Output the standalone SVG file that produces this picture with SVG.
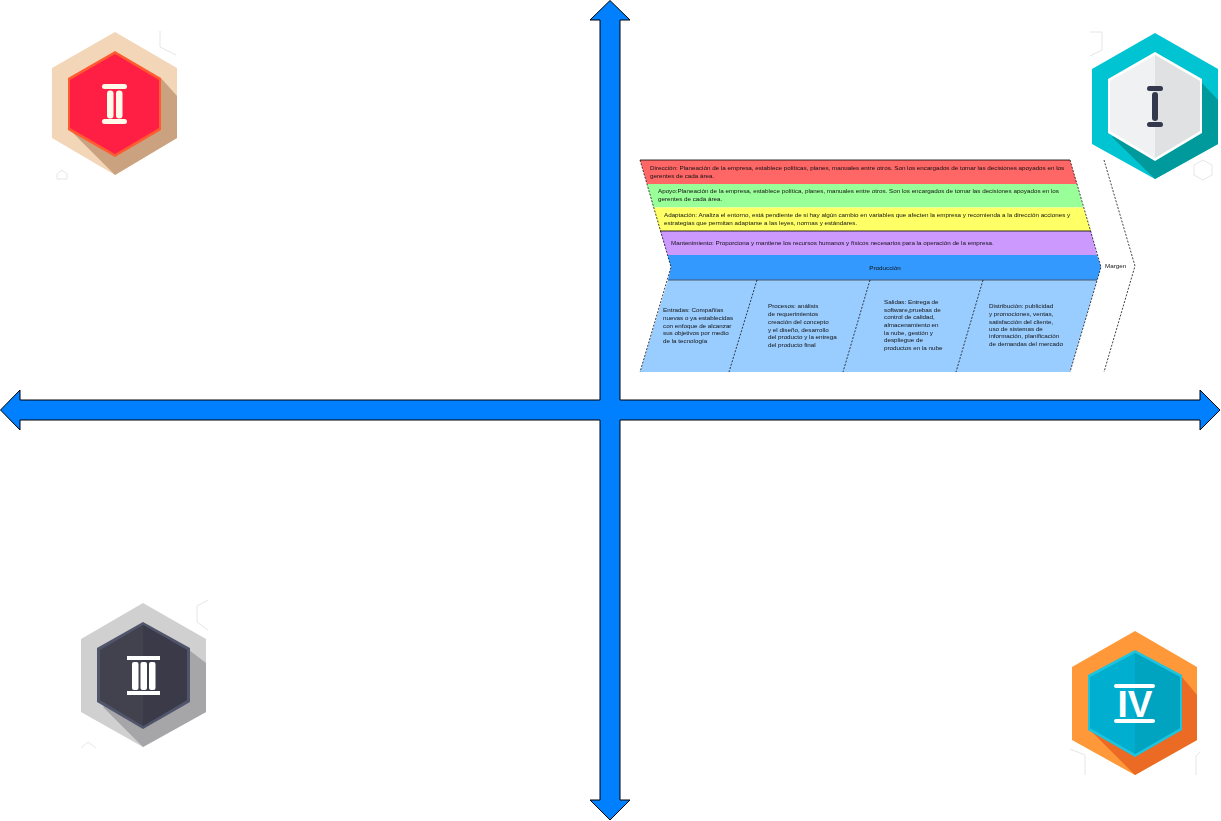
<svg xmlns="http://www.w3.org/2000/svg" width="1221" height="821" viewBox="0 0 1221 821">
<style>
text{font-family:"Liberation Sans",Arial,sans-serif;font-size:6.25px;fill:#111}
.arrow{fill:#007FFF;stroke:#000;stroke-width:1}
.edge{fill:none;stroke:#000;stroke-width:.8}
.dash{fill:none;stroke:#111;stroke-width:.8;stroke-dasharray:2 1.5}
.mark{fill:none;stroke:#E6E6E6;stroke-width:1}
.w{fill:#fff}.c{fill:#FFFBEA}.d{fill:#33384C}
</style>
<defs><filter id="soft" x="0" y="0" width="1" height="1"><feGaussianBlur stdDeviation="0.22"/></filter></defs>
<rect width="1221" height="821" fill="#fff"/>
<g id="axes">
<path class="arrow" d="M610 .5L630 20H620V400H1200V390L1220 410L1200 430V420H620V800H630L610 820L590 800H600V420H20V430L.5 410L20 390V400H600V20H590Z"/>
</g>
<g id="value-chain">
<polygon points="640,160 1070,160 1077,184 647,184" fill="#FF6666"/>
<polygon points="647,184 1077,184 1083.500,207.500 653.500,207.500" fill="#99FF99"/>
<polygon points="653.500,207.500 1083.500,207.500 1091,231 660,231" fill="#FFFF66"/>
<polygon points="660,231 1091,231 1097,255 667.500,255" fill="#CC99FF"/>
<polygon points="667.500,255 1097,255 1101,267 1097,280 668,280 671,267" fill="#3399FF"/>
<polygon points="668,280 1097,280 1070,372 640,372" fill="#99CCFF"/>
<path d="M668 280H1097" stroke="#44566A" stroke-width="1"/>
<path class="edge" d="M640 160H1070M660 231H1091"/>
<path class="dash" d="M640 160L671 267L640 372M1070 160L1101 267L1070 372M757 280L729 372M870 280L843 372M983 280L956 372"/>
<path class="dash" d="M1104 160L1135 266L1104 372"/>
<g id="labels" filter="url(#soft)">
<text x="650" y="170">Dirección: Planeación de la empresa, establece políticas, planes, manuales entre otros. Son los encargados de tomar las decisiones apoyados en los</text>
<text x="650" y="178">gerentes de cada área.</text>
<text x="658" y="193">Apoyo:Planeación de la empresa, establece política, planes, manuales entre otros. Son los encargados de tomar las decisiones apoyados en los</text>
<text x="658" y="201">gerentes de cada área.</text>
<text x="664" y="217">Adaptación: Analiza el entorno, está pendiente de si hay algún cambio en variables que afecten la empresa y recomienda a la dirección acciones y</text>
<text x="664" y="225">estrategias que permitan adaptarse a las leyes, normas y estándares.</text>
<text x="671" y="245">Mantenimiento: Proporciona y mantiene los recursos humanos y físicos necesarios para la operación de la empresa.</text>
<text x="885" y="270" text-anchor="middle">Producción</text>
<text x="1105" y="268">Margen</text>
<text x="663" y="312">Entradas: Compañías</text>
<text x="663" y="320">nuevas o ya establecidas</text>
<text x="663" y="327.500">con enfoque de alcanzar</text>
<text x="663" y="335">sus objetivos por medio</text>
<text x="663" y="343">de la tecnología</text>
<text x="768" y="308">Procesos: análisis</text>
<text x="768" y="316">de requerimientos</text>
<text x="768" y="324">creación del concepto</text>
<text x="768" y="332">y el diseño, desarrollo</text>
<text x="768" y="339">del producto y la entrega</text>
<text x="768" y="347">del producto final</text>
<text x="884" y="304">Salidas: Entrega de</text>
<text x="884" y="312">software,pruebas de</text>
<text x="884" y="319">control de calidad,</text>
<text x="884" y="327">almacenamiento en</text>
<text x="884" y="335">la nube, gestión y</text>
<text x="884" y="342">despliegue de</text>
<text x="884" y="350">productos en la nube</text>
<text x="989" y="308">Distribución: publicidad</text>
<text x="989" y="316">y promociones, ventas,</text>
<text x="989" y="324">satisfacción del cliente,</text>
<text x="989" y="331">uso de sistemas de</text>
<text x="989" y="338">información, planificación</text>
<text x="989" y="346">de demandas del mercado</text>
</g>
</g>
<g id="badge-2">
<path class="mark" d="M160 31V47L176 55M57 174L62 170L67 174V179H57Z"/>
<polygon points="115,32 177,68 177,138 115,175 52,138 52,68" fill="#F3D5B8"/>
<polygon points="161,78 177,96 177,138 115,175 71,131" fill="#CBA280"/>
<polygon points="115,51 161,78 161,130 115,157 68,130 68,78" fill="#FF5A30"/>
<polygon points="115,54 159,80 159,128 115,154 70,128 70,80" fill="#FF1F45"/>
<rect class="c" x="102" y="84" width="25" height="5" rx="2.500"/>
<rect class="c" x="102" y="119" width="25" height="5" rx="2.500"/>
<rect class="c" x="107" y="90.500" width="6.500" height="28" rx="3"/>
<rect class="c" x="116" y="90.500" width="6.500" height="28" rx="3"/>
</g>
<g id="badge-1">
<path class="mark" d="M1090 32H1102V50L1090 56M1203 160L1212 165V175L1203 180L1194 175V165Z"/>
<polygon points="1155,33 1218,69 1218,144 1155,179 1092,144 1092,69" fill="#00C4D2"/>
<polygon points="1202,83 1218,100 1218,144 1155,179 1112,137" fill="#009A9C"/>
<polygon points="1155,52 1202,79 1202,133 1155,161 1108,133 1108,79" fill="#fff"/>
<polygon points="1155,55 1200,81 1200,131 1155,158 1110,131 1110,81" fill="#F0F1F3"/>
<polygon points="1155,55 1200,81 1200,131 1155,158" fill="#E0E1E3"/>
<rect class="d" x="1147" y="86" width="16" height="5" rx="2.500"/>
<rect class="d" x="1147" y="122" width="16" height="5" rx="2.500"/>
<rect class="d" x="1152" y="92" width="6" height="29" rx="3"/>
</g>
<g id="badge-3">
<path class="mark" d="M208 600L197 606V622L208 630M81 748L88 742L96 748"/>
<polygon points="143,603 206,639 206,712 143,747 81,712 81,639" fill="#D0D0D0"/>
<polygon points="189,650 206,663 206,712 143,747 103,707" fill="#A6A6A8"/>
<polygon points="143,622 190,648 190,702 143,729 97,702 97,648" fill="#50556C"/>
<polygon points="143,625 187,650 187,700 143,726 100,700 100,650" fill="#42424F"/>
<polygon points="143,625 187,650 187,700 143,726" fill="#3A3A48"/>
<rect class="w" x="127" y="656" width="33" height="4"/>
<rect class="w" x="127" y="691" width="33" height="4"/>
<rect class="w" x="132" y="662" width="6.500" height="28" rx="2"/>
<rect class="w" x="140.500" y="662" width="6.500" height="28" rx="2"/>
<rect class="w" x="149" y="662" width="6.500" height="28" rx="2"/>
</g>
<g id="badge-4">
<path class="mark" d="M1070 749L1085 755V775M1200 752L1196 756V775"/>
<polygon points="1135,631 1197,667 1197,740 1135,775 1072,740 1072,667" fill="#FF9838"/>
<polygon points="1182,677 1197,695 1197,740 1135,775 1092,732" fill="#EB6A24"/>
<polygon points="1135,650 1182,675 1182,730 1135,757 1088,730 1088,675" fill="#1CC4E0"/>
<polygon points="1135,653 1180,677 1180,728 1135,754 1090,728 1090,677" fill="#00AFD0"/>
<polygon points="1135,653 1180,677 1180,728 1135,754" fill="#00A3C0"/>
<rect class="w" x="1114" y="684" width="41" height="4" rx="2"/>
<rect class="w" x="1114" y="719" width="41" height="4" rx="2"/>
<text x="1135" y="717" text-anchor="middle" style="font-size:37px;font-weight:700;fill:#fff">IV</text>
</g>
</svg>
